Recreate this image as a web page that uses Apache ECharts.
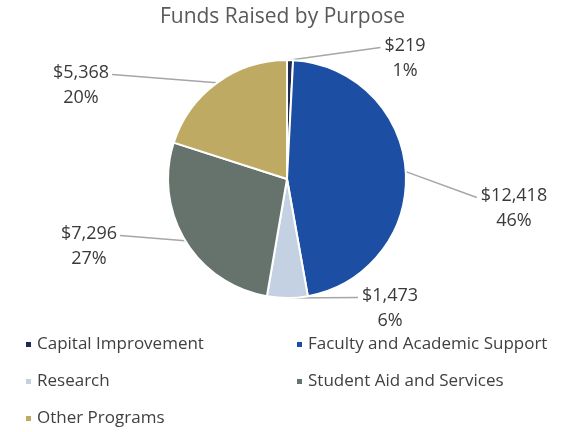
<!DOCTYPE html>
<html>
<head>
<meta charset="utf-8">
<script src="https://cdn.jsdelivr.net/npm/echarts@6/dist/echarts.min.js"></script>
<style>
  html, body { margin: 0; padding: 0; background: #fff; }
  #chart { width: 565px; height: 432px; }
</style>
</head>
<body>
<div id="chart"></div>
<script>
const categories = ['Capital Improvement', 'Faculty and Academic Support', 'Research', 'Student Aid and Services', 'Other Programs']
const amounts = [219, 12418, 1473, 7296, 5368]
const colors = ['#1f2a55', '#1c4fa3', '#c3d1e3', '#66736c', '#bfaa63']

// where each data label sits (centre x, top y), per slice
const labelPos = [[405, 33], [514, 183], [390, 283], [89, 221], [81, 60]]

const font = '"Open Sans", "Noto Sans", sans-serif'
const labelLineHeight = 25

const chart = echarts.init(document.getElementById('chart'))

const legendBase = {
  orient: 'vertical',
  icon: 'rect',
  itemWidth: 7,
  itemHeight: 7,
  itemGap: 20,
  padding: 0,
  textStyle: { fontFamily: font, fontSize: 17, lineHeight: 17, color: '#404040' }
}

chart.setOption({
  color: colors,
  title: {
    text: 'Funds Raised by Purpose',
    left: 'center',
    top: 2,
    textStyle: { fontFamily: font, fontSize: 21, fontWeight: 'normal', color: '#595959' }
  },
  legend: [
    Object.assign({}, legendBase, { left: 24, top: 336, data: [categories[0], categories[2], categories[4]] }),
    Object.assign({}, legendBase, { left: 295, top: 336, data: [categories[1], categories[3]] })
  ],
  series: [
    {
      type: 'pie',
      center: [287, 179],
      radius: 119,
      startAngle: 90,
      clockwise: true,
      avoidLabelOverlap: false,
      itemStyle: { borderColor: '#fff', borderWidth: 2 },
      label: {
        show: true,
        position: 'outside',
        fontFamily: font,
        fontSize: 18,
        color: '#3a3a3a',
        lineHeight: labelLineHeight,
        formatter: p => '$' + p.value.toLocaleString('en-US') + '\n' + Math.round(p.percent) + '%'
      },
      labelLine: {
        show: true,
        lineStyle: { color: '#a6a6a6', width: 1.5 }
      },
      labelLayout: function (params) {
        const pos = labelPos[params.dataIndex]
        const w = params.labelRect.width
        const anchor = params.labelLinePoints ? params.labelLinePoints[0] : [pos[0], pos[1]]
        const leftSide = anchor[0] > pos[0]
        const end = [leftSide ? pos[0] + w / 2 + 3 : pos[0] - w / 2 - 4, pos[1] + labelLineHeight / 2 + 2]
        return {
          x: pos[0],
          y: pos[1],
          align: 'center',
          verticalAlign: 'top',
          labelLinePoints: [anchor, end, end]
        }
      },
      data: categories.map((name, i) => ({ name: name, value: amounts[i] }))
    }
  ]
})
</script>
</body>
</html>
